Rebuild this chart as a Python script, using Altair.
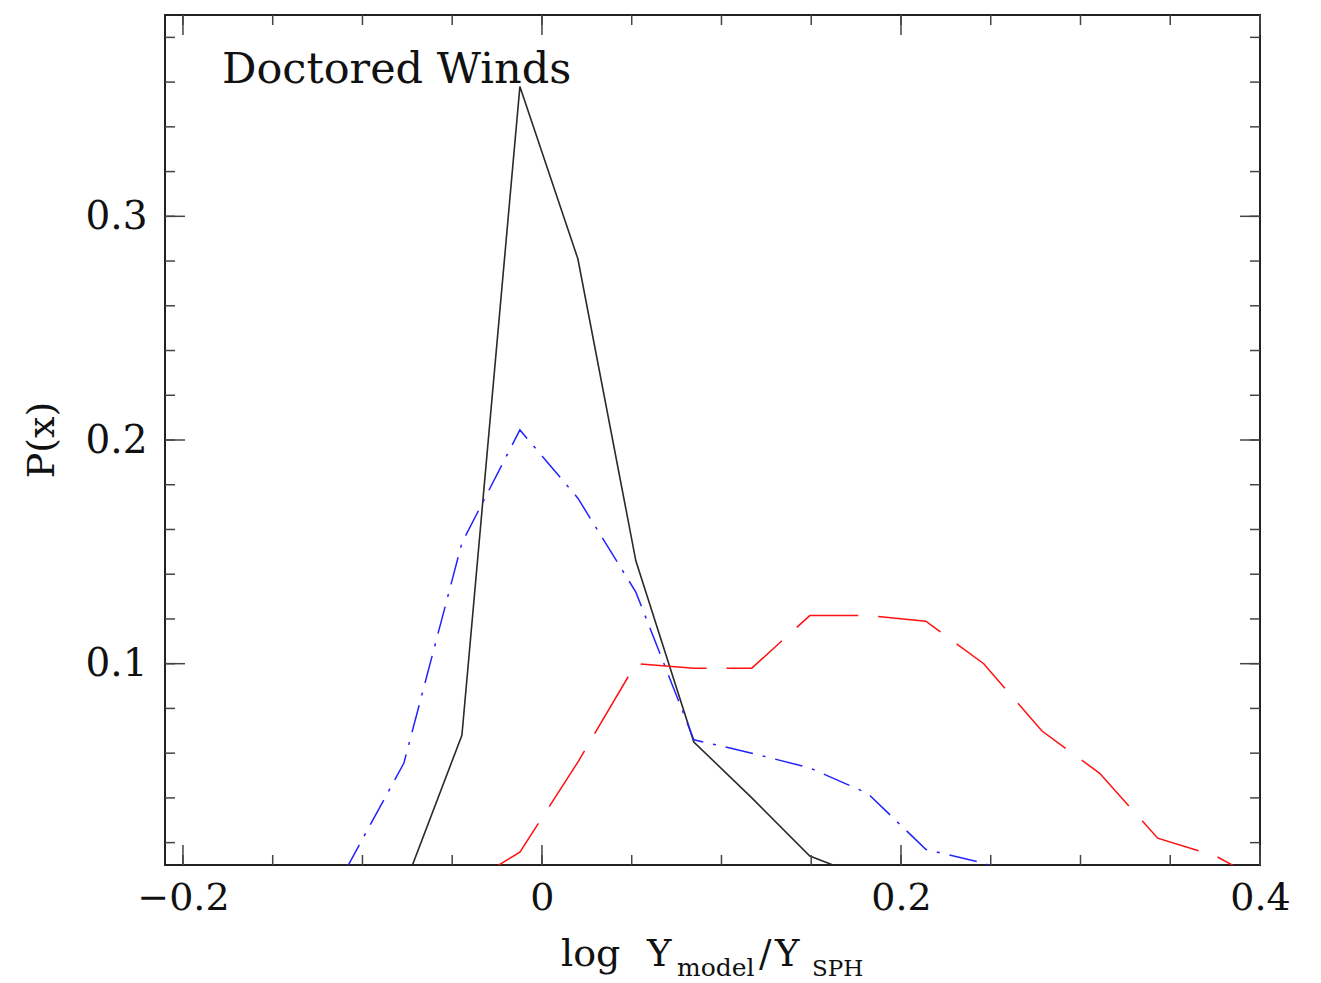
import altair as alt
import pandas as pd

# ---- data ----
bins = [-0.1092, -0.0769, -0.0446, -0.0123, 0.0200, 0.0523, 0.0846, 0.1169, 0.1492,
        0.1815, 0.2138, 0.2461, 0.2784, 0.3107, 0.3430, 0.3753, 0.4076]
p_black = [0.0, 0.0, 0.068, 0.358, 0.281, 0.146, 0.065, 0.040, 0.014,
           0.004, 0.0, 0.0, 0.0, 0.0, 0.0, 0.0, 0.0]
p_blue = [0.008, 0.0556, 0.154, 0.2045, 0.174, 0.132, 0.066, 0.060, 0.0534,
          0.042, 0.017, 0.0108, 0.0, 0.0, 0.0, 0.0, 0.0]
p_red = [0.0, 0.0, 0.0, 0.0157, 0.056, 0.100, 0.098, 0.098, 0.1215,
         0.1215, 0.119, 0.100, 0.070, 0.051, 0.022, 0.014, 0.0]

x_major = [-0.2, 0.0, 0.2, 0.4]
x_minor = [-0.2, -0.15, -0.1, -0.05, 0.0, 0.05, 0.1, 0.15, 0.2, 0.25, 0.3, 0.35, 0.4]
y_major = [0.1, 0.2, 0.3]
y_minor = [0.02, 0.04, 0.06, 0.08, 0.10, 0.12, 0.14, 0.16, 0.18, 0.20,
           0.22, 0.24, 0.26, 0.28, 0.30, 0.32, 0.34, 0.36, 0.38]

W, H = 1095, 850
FONT = "DejaVu Serif"

xscale = alt.Scale(domain=[-0.21, 0.4], nice=False, zero=False)
yscale = alt.Scale(domain=[0.01, 0.39], nice=False, zero=False)

xaxis = alt.Axis(values=x_major, labelExpr="datum.value == 0 ? '0' : format(datum.value, '.1f')",
                 ticks=False, domain=False, grid=False, title=None, labelFont=FONT,
                 labelFontSize=38, labelColor="#111", labelPadding=14, labelFlush=False)
yaxis = alt.Axis(values=y_major, labelExpr="format(datum.value, '.1f')", ticks=False,
                 domain=False, grid=False, title=None, labelFont=FONT, labelFontSize=39,
                 labelColor="#111", labelPadding=18, labelFlush=False)

df = pd.DataFrame({"x": bins, "black": p_black, "blue": p_blue, "red": p_red})
base = alt.Chart(df)


def series(col, color, dash=None, offset=None, width=1.5):
    kw = dict(clip=True, color=color, strokeWidth=width)
    if dash:
        kw["strokeDash"] = dash
    if offset is not None:
        kw["strokeDashOffset"] = offset
    return base.mark_line(**kw).encode(
        x=alt.X("x:Q", scale=xscale, axis=xaxis),
        y=alt.Y(f"{col}:Q", scale=yscale, axis=yaxis),
    )


line_black = series("black", "#2a2a2a", width=1.6)
line_blue = series("blue", "#2222ff", [28, 10, 3, 10])
line_red = series("red", "#ff1111", [66, 20], offset=20)

TICK_COLOR = "#444444"


def xticks(vals, length):
    d = pd.DataFrame({"x": vals})
    bottom = alt.Chart(d).mark_rule(color=TICK_COLOR, strokeWidth=1.5).encode(
        x=alt.X("x:Q", scale=xscale, axis=xaxis), y=alt.value(H), y2=alt.value(H - length))
    top = alt.Chart(d).mark_rule(color=TICK_COLOR, strokeWidth=1.5).encode(
        x=alt.X("x:Q", scale=xscale, axis=xaxis), y=alt.value(0), y2=alt.value(length))
    return [bottom, top]


def yticks(vals, length):
    d = pd.DataFrame({"y": vals})
    left = alt.Chart(d).mark_rule(color=TICK_COLOR, strokeWidth=1.5).encode(
        y=alt.Y("y:Q", scale=yscale, axis=yaxis), x=alt.value(0), x2=alt.value(length))
    right = alt.Chart(d).mark_rule(color=TICK_COLOR, strokeWidth=1.5).encode(
        y=alt.Y("y:Q", scale=yscale, axis=yaxis), x=alt.value(W), x2=alt.value(W - length))
    return [left, right]


ticks = xticks(x_minor, 10) + xticks(x_major, 20) + yticks(y_minor, 10) + yticks(y_major, 20)


def label(text, x, y, size, align="left", angle=0, baseline="alphabetic"):
    return alt.Chart(pd.DataFrame({"t": [text]})).mark_text(
        font=FONT, fontSize=size, color="#111", align=align, baseline=baseline, angle=angle
    ).encode(text="t:N", x=alt.value(x), y=alt.value(y))


# text positions are in plot-area pixels (plot origin at page 165,15)
texts = [
    label("Doctored Winds", 57, 68, 43),
    label("P(x)", -122, 425, 38, align="center", angle=270, baseline="middle"),
    label("log", 561 - 165, 966 - 15, 38),
    label("Y", 647 - 165, 966 - 15, 37),
    label("model", 677 - 165, 976 - 15, 25),
    label("/", 759 - 165, 966 - 15, 37),
    label("Y", 775 - 165, 966 - 15, 37),
    label("SPH", 812 - 165, 976 - 15, 23),
]

chart = alt.layer(line_black, line_blue, line_red, *ticks, *texts).properties(
    width=W, height=H,
    background="white",
    autosize=alt.AutoSizeParams(type="none"),
    padding={"left": 165, "top": 15, "right": 61, "bottom": 118},
).configure_view(stroke="#222222", strokeWidth=2)

chart.save("out.html", embed_options={"renderer": "svg", "actions": False})
